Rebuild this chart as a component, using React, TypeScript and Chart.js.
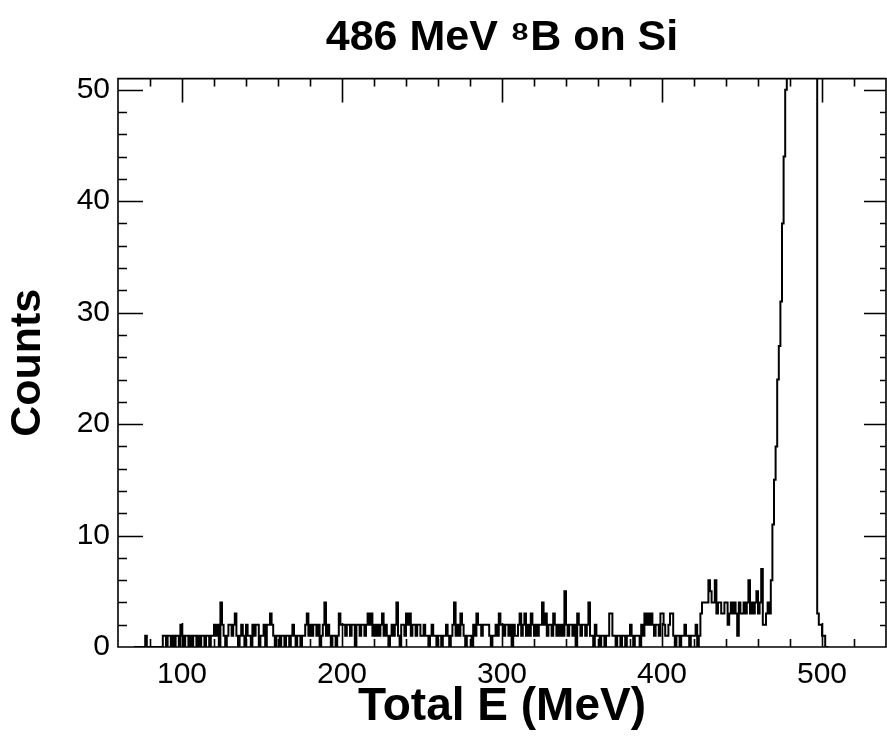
import { useEffect, useRef } from 'react';
import { Chart, registerables } from 'chart.js';

Chart.register(...registerables);

// Histogram: bin i covers [E_START + i*BIN_WIDTH, E_START + (i+1)*BIN_WIDTH)
const E_START = 70;
const BIN_WIDTH = 1;
const COUNTS: number[] = [
  0, 0, 0, 0, 0, 0, 0, 1, 0, 0, // 70
  0, 0, 0, 0, 0, 0, 0, 0, 1, 1, // 80
  0, 1, 1, 0, 1, 0, 1, 1, 0, 2, // 90
  1, 0, 1, 1, 0, 1, 0, 1, 1, 0, // 100
  1, 0, 1, 1, 0, 1, 1, 0, 1, 1, // 110
  2, 1, 2, 0, 4, 2, 1, 0, 1, 2, // 120
  2, 1, 2, 3, 1, 0, 1, 2, 1, 0, // 130
  2, 1, 1, 0, 2, 1, 2, 2, 0, 1, // 140
  1, 2, 0, 2, 2, 3, 2, 1, 0, 1, // 150
  1, 0, 1, 1, 0, 1, 1, 0, 1, 2, // 160
  1, 0, 1, 1, 0, 1, 1, 2, 3, 1, // 170
  2, 1, 2, 2, 1, 2, 0, 1, 2, 4, // 180
  1, 2, 1, 0, 1, 1, 0, 1, 3, 2, // 190
  2, 2, 1, 2, 2, 1, 2, 2, 0, 2, // 200
  2, 1, 2, 2, 1, 2, 3, 2, 3, 1, // 210
  2, 1, 2, 1, 2, 3, 1, 2, 1, 0, // 220
  1, 2, 1, 2, 4, 1, 0, 2, 2, 1, // 230
  3, 2, 3, 1, 2, 2, 1, 2, 2, 1, // 240
  1, 2, 1, 1, 0, 1, 2, 1, 1, 0, // 250
  1, 1, 0, 1, 1, 2, 1, 0, 1, 2, // 260
  4, 1, 2, 1, 3, 2, 1, 0, 1, 1, // 270
  1, 0, 2, 1, 3, 2, 2, 1, 2, 2, // 280
  2, 2, 1, 0, 1, 1, 2, 1, 3, 2, // 290
  2, 1, 2, 2, 1, 2, 0, 2, 1, 1, // 300
  2, 3, 1, 2, 3, 1, 2, 1, 3, 2, // 310
  1, 2, 1, 2, 2, 4, 2, 3, 1, 2, // 320
  2, 1, 3, 2, 1, 2, 1, 2, 1, 5, // 330
  2, 1, 2, 2, 1, 2, 0, 3, 2, 1, // 340
  2, 2, 1, 2, 4, 1, 1, 0, 2, 1, // 350
  1, 0, 1, 1, 0, 1, 1, 3, 3, 1, // 360
  1, 0, 1, 1, 0, 1, 1, 0, 1, 1, // 370
  2, 1, 0, 1, 1, 1, 0, 2, 1, 3, // 380
  2, 3, 2, 3, 2, 1, 2, 2, 1, 3, // 390
  3, 2, 1, 1, 2, 3, 3, 1, 0, 1, // 400
  1, 0, 1, 1, 2, 1, 1, 0, 1, 1, // 410
  1, 2, 0, 1, 3, 4, 4, 4, 4, 6, // 420
  5, 4, 4, 6, 3, 4, 4, 3, 3, 4, // 430
  4, 2, 3, 4, 3, 4, 3, 1, 4, 3, // 440
  3, 4, 3, 4, 6, 3, 4, 3, 4, 5, // 450
  3, 4, 7, 2, 2, 3, 4, 3, 6, 11, // 460
  15, 18, 24, 27, 31, 38, 44, 50, 60, 80, // 470
  110, 150, 190, 230, 260, 280, 290, 285, 270, 250, // 480
  220, 190, 160, 130, 100, 80, 60, 3, 2, 2, // 490
  1, 1, 0, 0, // 500
];

const X_MIN = 60;
const X_MAX = 540;
const Y_MIN = 0;
const Y_MAX = 51;
const X_TICKS = [100, 200, 300, 400, 500];
const Y_TICKS = [0, 10, 20, 30, 40, 50];
const X_MINOR_STEP = 20;
const Y_MINOR_STEP = 2;

const TITLE = '486 MeV \u2078B on Si';
const X_TITLE = 'Total E (MeV)';
const Y_TITLE = 'Counts';

const FONT = "'Liberation Sans', Arial, Helvetica, sans-serif";

const framePlugin = {
  id: 'frameTicks',
  afterDatasetsDraw(chart: any) {
    const { ctx, chartArea, scales } = chart;
    const { left, right, top, bottom } = chartArea;
    const xs = scales.x;
    const ys = scales.y;
    ctx.save();
    ctx.strokeStyle = '#000';
    ctx.lineWidth = 1.6;
    ctx.beginPath();
    ctx.rect(left, top, right - left, bottom - top);
    ctx.stroke();
    ctx.lineWidth = 1.6;
    ctx.beginPath();
    for (let v = X_MIN + X_MINOR_STEP; v < X_MAX; v += X_MINOR_STEP) {
      const px = Math.round(xs.getPixelForValue(v)) + 0.5;
      const major = X_TICKS.includes(v);
      const len = major ? 24 : 8;
      ctx.moveTo(px, top);
      ctx.lineTo(px, top + len);
      ctx.moveTo(px, bottom);
      ctx.lineTo(px, bottom - len);
    }
    for (let v = Y_MIN + Y_MINOR_STEP; v < Y_MAX; v += Y_MINOR_STEP) {
      const py = Math.round(ys.getPixelForValue(v)) + 0.5;
      const major = Y_TICKS.includes(v);
      const lenL = major ? 25 : 9;
      const lenR = major ? 22 : 6;
      ctx.moveTo(left, py);
      ctx.lineTo(left + lenL, py);
      ctx.moveTo(right, py);
      ctx.lineTo(right - lenR, py);
    }
    ctx.stroke();
    ctx.restore();
  },
};

export default function App() {
  const canvasRef = useRef<HTMLCanvasElement | null>(null);

  useEffect(() => {
    const canvas = canvasRef.current;
    if (!canvas) return;
    const points = COUNTS.map((c, i) => ({ x: E_START + i * BIN_WIDTH, y: c }));
    points.push({ x: E_START + COUNTS.length * BIN_WIDTH, y: 0 });

    const chart = new Chart(canvas, {
      type: 'line',
      data: {
        datasets: [
          {
            data: points,
            borderColor: '#000',
            borderWidth: 2,
            pointRadius: 0,
            stepped: 'before',
            fill: false,
          },
        ],
      },
      options: {
        responsive: false,
        animation: false,
        devicePixelRatio: 1,
        layout: { padding: { left: 0, right: 1, top: 0, bottom: 0 } },
        plugins: {
          legend: { display: false },
          tooltip: { enabled: false },
          title: {
            display: true,
            text: TITLE,
            fullSize: false,
            color: '#000',
            font: { family: FONT, size: 43, weight: 'bold' },
            padding: { top: 12, bottom: 15 },
          },
        },
        scales: {
          x: {
            type: 'linear',
            min: X_MIN,
            max: X_MAX,
            afterBuildTicks: (s: any) => {
              s.ticks = X_TICKS.map((v) => ({ value: v }));
            },
            afterFit: (s: any) => {
              s.height = 98;
            },
            grid: { display: false, drawTicks: false },
            border: { display: false },
            ticks: {
              color: '#000',
              font: { family: FONT, size: 30 },
              padding: 10,
              maxRotation: 0,
              autoSkip: false,
            },
            title: {
              display: true,
              text: X_TITLE,
              color: '#000',
              font: { family: FONT, size: 46, weight: 'bold' },
              padding: { top: 0, bottom: 10 },
            },
          },
          y: {
            type: 'linear',
            min: Y_MIN,
            max: Y_MAX,
            afterBuildTicks: (s: any) => {
              s.ticks = Y_TICKS.map((v) => ({ value: v }));
            },
            afterFit: (s: any) => {
              s.width = 118;
            },
            grid: { display: false, drawTicks: false },
            border: { display: false },
            ticks: {
              color: '#000',
              font: { family: FONT, size: 30 },
              padding: 8,
            },
            title: {
              display: true,
              text: Y_TITLE,
              color: '#000',
              font: { family: FONT, size: 43, weight: 'bold' },
              padding: { top: 2, bottom: 0 },
            },
          },
        },
      },
      plugins: [framePlugin],
    } as any);

    return () => {
      chart.destroy();
    };
  }, []);

  return (
    <div style={{ position: 'absolute', left: 0, top: 0, width: 887, height: 745, background: '#fff' }}>
      <canvas ref={canvasRef} width={887} height={745} style={{ display: 'block' }} />
    </div>
  );
}
